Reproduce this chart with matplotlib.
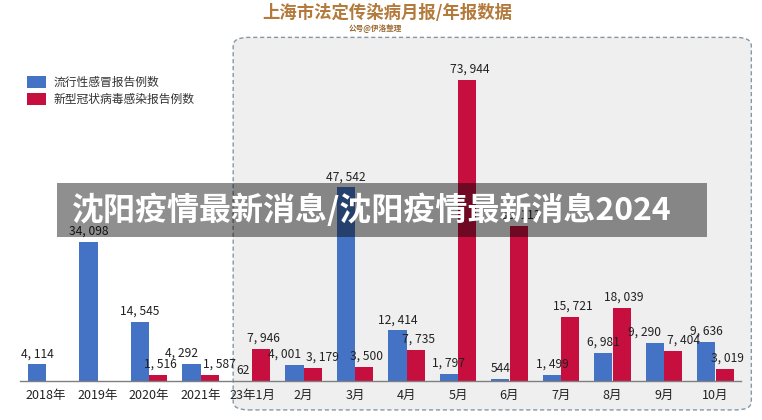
import matplotlib
matplotlib.use('Agg')
import matplotlib.pyplot as plt
from matplotlib.patches import FancyBboxPatch, Rectangle, Patch
import numpy as np

plt.rcParams['font.family'] = ['Noto Sans CJK SC', 'DejaVu Sans']

# Data
categories = ['2018年', '2019年', '2020年', '2021年', '23年1月', '2月', '3月',
              '4月', '5月', '6月', '7月', '8月', '9月', '10月']
flu = [4114, 34098, 14545, 4292, 62, 4001, 47542, 12414, 1797, 544, 1499, 6981, 9290, 9636]
covid = [None, None, 1516, 1587, 7946, 3179, 3500, 7735, 73944, 38113, 15721, 18039, 7404, 3019]

flu_name = '流行性感冒报告例数'
covid_name = '新型冠状病毒感染报告例数'
title = '上海市法定传染病月报/年报数据'
subtitle = '公号@伊洛整理'
banner = '沈阳疫情最新消息/沈阳疫情最新消息2024'

BLUE = '#4472c4'
RED = '#c70f3f'


def fmt(v):
    return '{:,}'.format(v).replace(',', ', ')


def main():
    fig = plt.figure(figsize=(7.62, 4.20), dpi=100)
    fig.patch.set_facecolor('white')

    # Dashed rounded panel behind the 2023 months
    panel = FancyBboxPatch((0.312, 0.03), 0.668, 0.875, transform=fig.transFigure,
                           boxstyle='round,pad=0.006,rounding_size=0.02',
                           facecolor='#efefef', edgecolor='#8796a4',
                           linestyle=(0, (3, 2)), linewidth=1.0, zorder=0)
    fig.patches.append(panel)

    ax = fig.add_axes([20.25 / 762, 39 / 420, 721 / 762, 341 / 420])
    ax.set_facecolor('none')
    ax.set_zorder(1)

    x = np.arange(len(categories))
    w = 0.35
    flu_vals = [v if v is not None else 0 for v in flu]
    covid_vals = [v if v is not None else 0 for v in covid]
    ax.bar(x - w / 2, flu_vals, width=w, color=BLUE, zorder=2)
    ax.bar(x + w / 2, covid_vals, width=w, color=RED, zorder=2)

    ax.set_xlim(-0.5, len(categories) - 0.5)
    ymax = 341 / 301 * 73944
    ax.set_ylim(0, ymax)

    # Value labels; push apart when the two labels sit at similar heights
    near = ymax * 0.035
    for i in range(len(categories)):
        f = flu[i]
        c = covid[i]
        clash = c is not None and abs(f - c) < near
        kw = dict(fontsize=8.7, color='#222222', va='bottom', zorder=3)
        if clash:
            ax.text(x[i] - w / 2 + 0.12, f + ymax * 0.012, fmt(f), ha='right', **kw)
            ax.text(x[i] + w / 2 - 0.12, c + ymax * 0.012, fmt(c), ha='left', **kw)
        else:
            ax.text(x[i] - w / 2, f + ymax * 0.012, fmt(f), ha='center', **kw)
            if c is not None:
                ax.text(x[i] + w / 2 + 0.05, c + ymax * 0.012, fmt(c), ha='center', **kw)

    ax.set_xticks(x)
    ax.set_xticklabels(categories, fontsize=9, color='#222222')
    ax.tick_params(axis='x', length=0, pad=6)
    ax.set_yticks([])
    for s in ['top', 'right', 'left']:
        ax.spines[s].set_visible(False)
    ax.spines['bottom'].set_color('#7f7f7f')
    ax.spines['bottom'].set_linewidth(1.0)

    # Legend
    handles = [Patch(facecolor=BLUE, label=flu_name), Patch(facecolor=RED, label=covid_name)]
    fig.legend(handles=handles, loc='upper left', bbox_to_anchor=(0.022, 0.845),
               frameon=False, fontsize=8.5, handlelength=1.6, handleheight=1.2,
               handletextpad=0.6, labelspacing=0.35, labelcolor='#333333')

    # Titles
    fig.text(0.508, 0.968, title, ha='center', va='center', fontsize=12.5,
             fontweight='bold', color='#b37a3c')
    fig.text(0.492, 0.932, subtitle, ha='center', va='center', fontsize=5.5,
             fontweight='bold', color='#9a6a32')

    # Grey overlay banner with its headline
    fig.patches.append(Rectangle((57 / 762, 1 - 237 / 420), 650 / 762, 54 / 420,
                                 transform=fig.transFigure, facecolor='black',
                                 alpha=0.44, edgecolor='none', zorder=5))
    fig.text(72 / 762, 1 - 210 / 420, banner, ha='left', va='center', fontsize=23,
             fontweight='bold', color='white', zorder=6)

    fig.savefig('out.png', dpi=100)


if __name__ == '__main__':
    main()
